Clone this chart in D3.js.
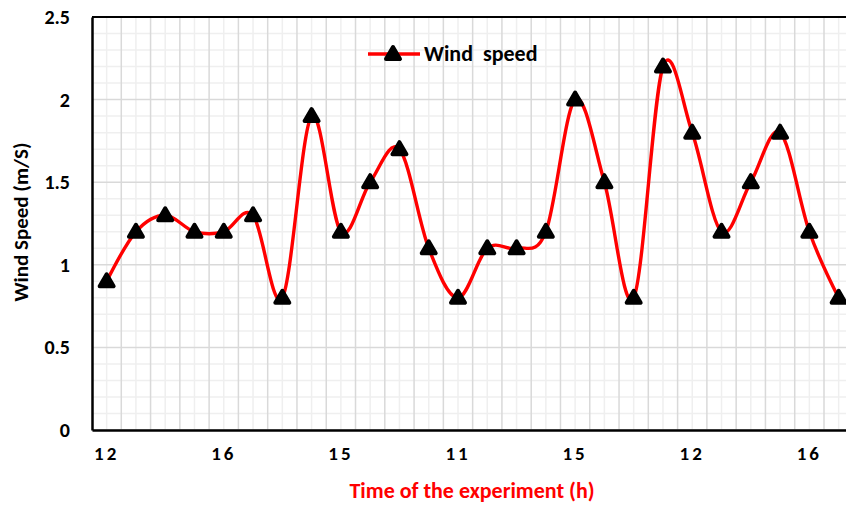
<!DOCTYPE html>
<html><head><meta charset="utf-8">
<script src="https://cdn.jsdelivr.net/npm/d3@7"></script>
<style>body{margin:0;background:#fff}svg{display:block}</style>
</head><body>
<svg id="c" width="846" height="505"></svg>
<script>
const categories = ["12","","","","16","","","","15","","","","11","","","","15","","","","12","","","","16",""];
const windSpeed = [0.9,1.2,1.3,1.2,1.2,1.3,0.8,1.9,1.2,1.5,1.7,1.1,0.8,1.1,1.1,1.2,2.0,1.5,0.8,2.2,1.8,1.2,1.5,1.8,1.2,0.8];
const yTicks = [0,0.5,1,1.5,2,2.5];
const seriesName = "Wind  speed";
const xTitle = "Time of the experiment (h)";
const yTitle = "Wind Speed (m/S)";

const svg = d3.select("#c");
const L = 92, T = 17, B = 430;
const n = windSpeed.length;
const step = 29.28;
const R = L + n*step;
const idx = d3.range(n);
const x = d3.scaleBand().domain(idx).range([L, R]);
const y = d3.scaleLinear().domain([0,2.5]).range([B, T]);
const font = "Carlito, Lato, 'Open Sans', sans-serif";

// minor horizontal grid
const g = svg.append("g");
g.selectAll(".hm").data(d3.range(0,2.501,0.1).map(v=>+v.toFixed(1)).filter(v=>Math.round(v*10)%5!==0))
 .join("line").attr("x1",L).attr("x2",R).attr("y1",d=>y(d)).attr("y2",d=>y(d))
 .attr("stroke","#efefef").attr("stroke-width",1.5);
// minor vertical grid (category centers)
g.selectAll(".vm").data(idx).join("line")
 .attr("x1",d=>x(d)+x.bandwidth()/2).attr("x2",d=>x(d)+x.bandwidth()/2).attr("y1",T).attr("y2",B)
 .attr("stroke","#efefef").attr("stroke-width",1.5);
// major horizontal
g.selectAll(".hM").data(yTicks).join("line").attr("x1",L).attr("x2",R).attr("y1",d=>y(d)).attr("y2",d=>y(d))
 .attr("stroke","#d9d9d9").attr("stroke-width",1.5);
// major vertical (category boundaries)
g.selectAll(".vM").data(idx.slice(1)).join("line")
 .attr("x1",d=>x(d)).attr("x2",d=>x(d)).attr("y1",T).attr("y2",B)
 .attr("stroke","#d9d9d9").attr("stroke-width",1.5);

// border
svg.append("line").attr("x1",L).attr("x2",R).attr("y1",T).attr("y2",T).attr("stroke","#000").attr("stroke-width",2);

// y axis
const ya = svg.append("g").attr("transform",`translate(${L},0)`)
 .call(d3.axisLeft(y).tickValues(yTicks).tickFormat(d3.format("")).tickSize(0).tickPadding(22));
ya.select(".domain").attr("stroke","#000").attr("stroke-width",2.5);
ya.selectAll("text").attr("font-family",font).attr("font-weight","bold").attr("font-size",20).attr("fill","#000");

// x axis
const xa = svg.append("g").attr("transform",`translate(0,${B})`)
 .call(d3.axisBottom(x).tickFormat(i=>categories[i]).tickSize(0).tickPadding(17));
xa.select(".domain").attr("stroke","#000").attr("stroke-width",2.5);
xa.selectAll("text").attr("font-family",font).attr("font-weight","bold").attr("font-size",19)
 .attr("letter-spacing","3px").attr("fill","#000");

// line
const line = d3.line().x((d,i)=>x(i)+x.bandwidth()/2).y(d=>y(d)).curve(d3.curveCardinal.tension(0));
svg.append("path").datum(windSpeed).attr("d",line).attr("fill","none").attr("stroke","#ff0000").attr("stroke-width",3.4);

// markers
const tri = "M0,-7 L7,5 L-7,5 Z";
svg.selectAll(".mk").data(windSpeed).join("path")
 .attr("transform",(d,i)=>`translate(${x(i)+x.bandwidth()/2},${y(d)})`)
 .attr("d",tri).attr("fill","#000").attr("stroke","#000").attr("stroke-width",4).attr("stroke-linejoin","round");

// legend
svg.append("line").attr("x1",368).attr("x2",420).attr("y1",54).attr("y2",54).attr("stroke","#ff0000").attr("stroke-width",3.4);
svg.append("path").attr("transform","translate(393,54)").attr("d",tri).attr("fill","#000").attr("stroke","#000").attr("stroke-width",4).attr("stroke-linejoin","round");
svg.append("text").attr("x",424).attr("y",61).attr("font-family",font).attr("font-weight","bold").attr("font-size",22)
 .attr("xml:space","preserve").style("white-space","pre").text(seriesName);

// titles
svg.append("text").attr("x",472).attr("y",498).attr("text-anchor","middle").attr("font-family",font)
 .attr("font-weight","bold").attr("font-size",22).attr("fill","#ff0000").text(xTitle);
svg.append("text").attr("transform","translate(28,222) rotate(-90)").attr("text-anchor","middle").attr("font-family",font)
 .attr("font-weight","bold").attr("font-size",21).attr("fill","#000").text(yTitle);
</script>
</body></html>
